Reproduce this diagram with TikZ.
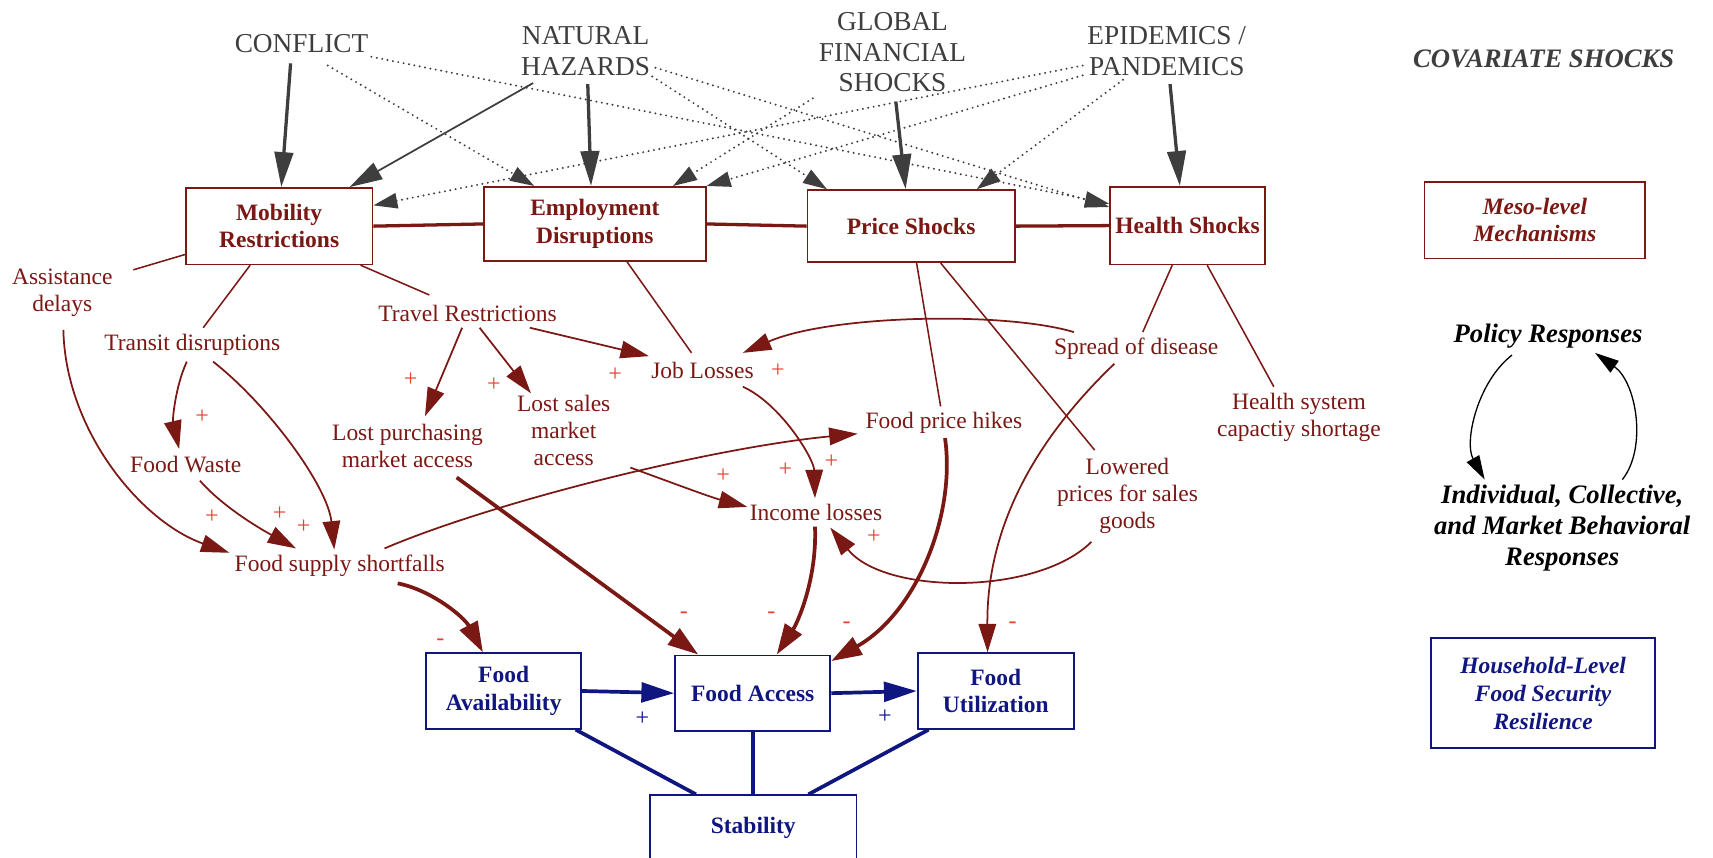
\documentclass[tikz,border=0pt]{standalone}
\usepackage{fontspec}
\setmainfont{Liberation Serif}
\usetikzlibrary{arrows.meta,calc}
\definecolor{mred}{RGB}{122,24,20}
\definecolor{pred}{RGB}{232,64,52}
\definecolor{sgray}{RGB}{62,62,62}
\definecolor{navy}{RGB}{16,22,128}
\begin{document}
\begin{tikzpicture}[x=0.5pt,y=-0.5pt,
  shock/.style={text=sgray, font=\fontsize{12.5pt}{14pt}\selectfont, align=center, inner sep=1pt},
  covtext/.style={text=sgray, font=\bfseries\itshape\fontsize{12.2pt}{14pt}\selectfont, inner sep=1pt},
  mesobox/.style={draw=mred, line width=0.75pt, fill=white, text=mred, font=\bfseries\fontsize{10.75pt}{12.5pt}\selectfont, align=center, inner sep=0pt},
  mlabel/.style={text=mred, font=\fontsize{10.75pt}{12.3pt}\selectfont, align=center, inner sep=1pt},
  foodbox/.style={draw=navy, line width=0.9pt, text=navy, font=\bfseries\fontsize{10.75pt}{12.5pt}\selectfont, align=center, inner sep=0pt},
  legtext/.style={text=black, font=\bfseries\itshape\fontsize{12.2pt}{14.2pt}\selectfont, align=center, inner sep=1pt},
  sign/.style={text=pred, font=\fontsize{11pt}{12pt}\selectfont, inner sep=0pt},
  bsign/.style={text=navy, font=\fontsize{11pt}{12pt}\selectfont, inner sep=0pt},
  garrow/.style={draw=sgray, line width=1.5pt, -{Triangle[length=16pt,width=8.5pt]}},
  garrowthin/.style={draw=sgray, line width=0.8pt, -{Triangle[length=15pt,width=8.5pt]}},
  gdot/.style={draw=sgray, line width=1pt, line cap=round, dash pattern=on 0pt off 2.5pt, -{Triangle[length=11pt,width=7pt]}},
  mline/.style={draw=mred, line width=0.7pt},
  mconn/.style={draw=mred, line width=1.5pt},
  rarr/.style={draw=mred, line width=0.8pt, -{Triangle[length=13pt,width=8pt]}},
  rthick/.style={draw=mred, line width=1.7pt, -{Triangle[length=14pt,width=9pt]}},
  barr/.style={draw=navy, line width=1.7pt, -{Triangle[length=15pt,width=9pt]}},
  bline/.style={draw=navy, line width=1.7pt},
  karr/.style={draw=black, line width=0.6pt, -{Triangle[length=11pt,width=6.5pt]}}
]
\useasboundingbox (0,0) rectangle (1568,785);

% covariate shocks
\node[shock] (con) at (276,40) {CONFLICT};
\node[shock] (nat) at (536,47) {NATURAL\\HAZARDS};
\node[shock] (glo) at (817,48) {GLOBAL\\FINANCIAL\\SHOCKS};
\node[shock] (epi) at (1068,47) {EPIDEMICS /\\PANDEMICS};
\node[covtext] (cov) at (1413,54) {COVARIATE SHOCKS};

% meso-level boxes
\node[mesobox, minimum width=85.5pt, minimum height=35pt] (mob) at (255.5,207) {Mobility\\Restrictions};
\node[mesobox, minimum width=101.5pt, minimum height=34pt] (emp) at (544.5,205) {Employment\\Disruptions};
\node[mesobox, minimum width=95pt, minimum height=33pt] (pri) at (834,207) {Price Shocks};
\node[mesobox, minimum width=71pt, minimum height=35.5pt] (hea) at (1087,206.5) {Health Shocks};
\node[mesobox, font=\bfseries\itshape\fontsize{10.75pt}{12.5pt}\selectfont, minimum width=101pt, minimum height=35pt] (meso) at (1405,201.5) {Meso-level\\Mechanisms};

\draw[mconn] (mob.east) -- (emp.west);
\draw[mconn] (emp.east) -- (pri.west);
\draw[mconn] (pri.east) -- (hea.west);

% solid shock arrows
\draw[garrow] ($(con)+(-10,18)$) -- ($(mob.north)+(2,0)$);
\draw[garrowthin] ($(nat)+(-48,29)$) -- ($(mob.north)+(64.5,0)$);
\draw[garrow] ($(nat)+(2,30)$) -- ($(emp.north)+(-3.5,0)$);
\draw[garrow] ($(glo)+(3,45)$) -- ($(pri.north)+(-5,0)$);
\draw[garrow] ($(epi)+(3,30)$) -- ($(hea.north)+(-7,0)$);

% dotted shock arrows
\draw[gdot] ($(con)+(24,20)$) -- ($(emp.north)+(-55.5,0)$);
\draw[gdot] ($(con)+(64,12)$) -- ($(hea.west)+(0,-20)$);
\draw[gdot] ($(nat)+(61,23)$) -- ($(pri.north)+(-77,0)$);
\draw[gdot] ($(nat)+(64,15)$) -- ($(hea.west)+(0,-17)$);
\draw[gdot] ($(glo)+(-73,42)$) -- ($(emp.north)+(71.5,0)$);
\draw[gdot] ($(epi)+(-77,13)$) -- ($(mob.east)+(0,-19)$);
\draw[gdot] ($(epi)+(-77,22)$) -- (emp.north east);
\draw[gdot] ($(epi)+(-40,26)$) -- ($(pri.north)+(60,0)$);

% meso-level labels
\node[mlabel] (asd) at (57,268) {Assistance\\delays};
\node[mlabel] (trd) at (176,316) {Transit disruptions};
\node[mlabel] (trv) at (428,287) {Travel Restrictions};
\node[mlabel] (fwa) at (170,425) {Food Waste};
\node[mlabel] (lpm) at (373,408) {Lost purchasing\\market access};
\node[mlabel] (lsm) at (516,394) {Lost sales\\market\\access};
\node[mlabel] (job) at (643,339) {Job Losses};
\node[mlabel] (fph) at (864,387) {Food price hikes};
\node[mlabel] (inc) at (747,469) {Income losses};
\node[mlabel] (fss) at (311,518) {Food supply shortfalls};
\node[mlabel] (spr) at (1040,319) {Spread of disease};
\node[mlabel] (hsc) at (1189,382) {Health system\\capactiy shortage};
\node[mlabel] (low) at (1032,454) {Lowered\\prices for sales\\goods};

% box to label lines
\draw[mline] ($(mob.west)+(0,26)$) -- ($(asd)+(65,-21)$);
\draw[mline] ($(mob.south)+(-26.5,0)$) -- ($(trd)+(10,-16)$);
\draw[mline] ($(mob.south)+(74.5,0)$) -- ($(trv)+(-35,-17)$);
\draw[mline] ($(emp.south)+(29.5,0)$) -- ($(job)+(-10,-16)$);
\draw[mline] ($(pri.south)+(5,0)$) -- ($(fph)+(-3,-15)$);
\draw[mline] ($(pri.south)+(27,0)$) -- ($(low)+(-30,-42)$);
\draw[mline] ($(hea.south)+(-14,0)$) -- ($(spr)+(6,-15)$);
\draw[mline] ($(hea.south)+(18,0)$) -- ($(hsc)+(-23,-28)$);

% causal arrows
\draw[rarr] ($(trd)+(-5,15)$) .. controls (160,355) and (158,385) .. ($(fwa)+(-6,-14)$);
\draw[rarr] ($(trd)+(19,15)$) .. controls (245,370) and (300,445) .. ($(fss)+(-5,-15)$);
\draw[rarr] ($(asd)+(1,34)$) .. controls (60,395) and (130,478) .. ($(fss)+(-101,-12)$);
\draw[rarr] ($(fwa)+(13,15)$) .. controls (205,465) and (240,485) .. ($(fss)+(-40,-16)$);
\draw[rarr] ($(trv)+(-5,13)$) -- ($(lpm)+(16,-27)$);
\draw[rarr] ($(trv)+(11,13)$) -- ($(lsm)+(-30,-34)$);
\draw[rarr] ($(trv)+(57,13)$) -- ($(job)+(-49,-13)$);
\draw[rarr] ($(job)+(37,15)$) .. controls (715,370) and (745,420) .. ($(inc)+(-1,-13)$);
\draw[rarr] ($(spr)+(-57,-15)$) .. controls (920,285) and (760,288) .. ($(job)+(37,-16)$);
\draw[rarr] ($(lsm)+(61,34)$) .. controls (610,440) and (650,455) .. ($(inc)+(-63,-5)$);
\draw[rarr] ($(fss)+(41,-16)$) .. controls (450,460) and (650,410) .. ($(fph)+(-79,10)$);
\draw[rarr] ($(low)+(-33,42)$) .. controls (950,545) and (810,545) .. ($(inc)+(13,14)$);

% food security boxes
\node[foodbox, minimum width=71pt, minimum height=34.5pt] (fav) at (461,632.5) {Food\\Availability};
\node[foodbox, minimum width=71pt, minimum height=34.5pt] (fac) at (689,634.5) {Food Access};
\node[foodbox, minimum width=71.5pt, minimum height=34.5pt] (fut) at (911.5,632.5) {Food\\Utilization};
\node[foodbox, minimum width=94.5pt, minimum height=30pt] (sta) at (689.5,758) {Stability};
\node[foodbox, font=\bfseries\itshape\fontsize{10.75pt}{12.8pt}\selectfont, minimum width=102.5pt, minimum height=50.5pt] (hh) at (1412.5,634.5) {Household-Level\\Food Security\\Resilience};

\draw[rarr] ($(spr)+(-20,14)$) .. controls (950,400) and (903,480) .. ($(fut.north)+(-7.5,0)$);
\draw[rthick] ($(fss)+(53,16)$) .. controls (395,540) and (425,565) .. ($(fav.north)+(-19,0)$);
\draw[rthick] ($(lpm)+(45,29)$) -- ($(fac.north west)+(22,0)$);
\draw[rthick] ($(inc)+(-1,13)$) .. controls (748,530) and (730,570) .. ($(fac.north)+(22,0)$);
\draw[rthick] ($(fph)+(1,14)$) .. controls (875,470) and (840,560) .. ($(fac.north east)+(0,6)$);

\draw[barr] (fav.east) -- (fac.west);
\draw[barr] (fac.east) -- (fut.west);
\draw[bline] ($(fav.south)+(66,0)$) -- ($(sta.north)+(-52.5,0)$);
\draw[bline] (fac.south) -- (sta.north -| fac.south);
\draw[bline] ($(fut.south)+(-61.5,0)$) -- ($(sta.north)+(50.5,0)$);

% signs
\node[sign] (s1) at (185,381) {+};
\node[sign] (s2) at (194,473) {+};
\node[sign] (s3) at (256,470) {+};
\node[sign] (s4) at (278,482) {+};
\node[sign] (s5) at (376,348) {+};
\node[sign] (s6) at (452,352) {+};
\node[sign] (s7) at (563,343) {+};
\node[sign] (s8) at (712,339) {+};
\node[sign] (s9) at (662,435) {+};
\node[sign] (s10) at (719,430) {+};
\node[sign] (s11) at (761,423) {+};
\node[sign] (s12) at (800,491) {+};
\node[sign] (m1) at (403,588) {-};
\node[sign] (m2) at (626,563) {-};
\node[sign] (m3) at (706,563) {-};
\node[sign] (m4) at (775,572) {-};
\node[sign] (m5) at (927,572) {-};
\node[bsign] (b1) at (588,658) {+};
\node[bsign] (b2) at (810,656) {+};

% legend
\node[legtext] (pol) at (1417,308) {Policy Responses};
\node[legtext] (ind) at (1430,483) {Individual, Collective,\\and Market Behavioral\\Responses};
\draw[karr] ($(pol)+(-33,17)$) .. controls (1352,350) and (1340,405) .. ($(ind)+(-71,-44)$);
\draw[karr] ($(ind)+(55,-44)$) .. controls (1508,410) and (1498,350) .. ($(pol)+(43,15)$);
\end{tikzpicture}
\end{document}
